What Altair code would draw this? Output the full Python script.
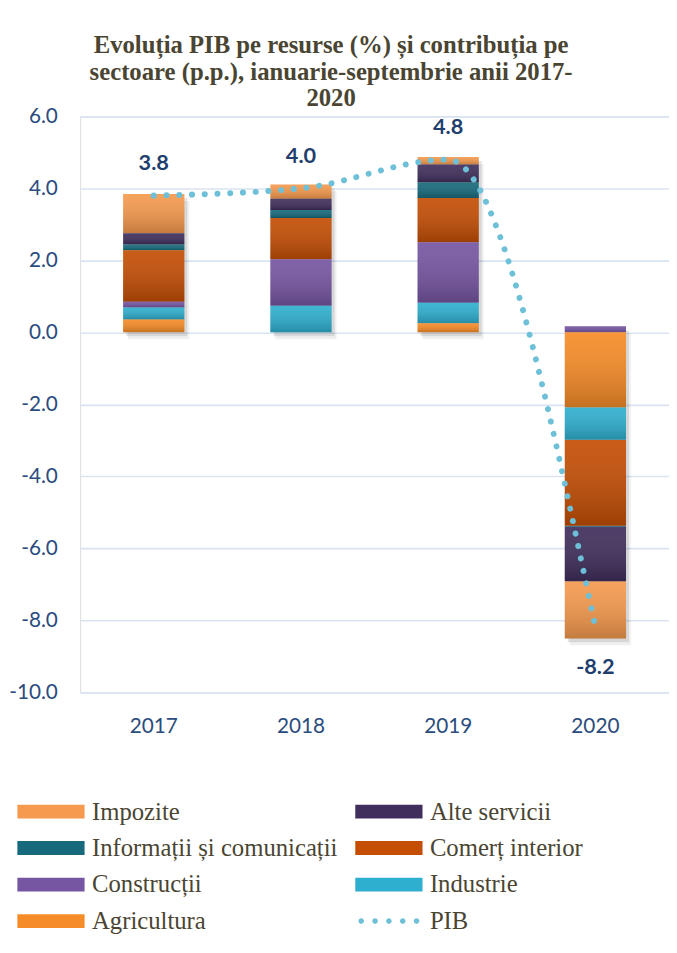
import altair as alt
import pandas as pd

years = ["2017", "2018", "2019", "2020"]
series = ["Impozite", "Alte servicii", "Informații și comunicații", "Comerț interior",
          "Construcții", "Industrie", "Agricultura"]
impozite = [1.09, 0.40, 0.21, -1.59]
alte_servicii = [0.31, 0.31, 0.50, -1.51]
informatii = [0.16, 0.22, 0.43, -0.03]
comert = [1.43, 1.15, 1.23, -2.39]
constructii = [0.16, 1.29, 1.68, 0.17]
industrie = [0.33, 0.74, 0.57, -0.90]
agricultura = [0.36, 0.00, 0.25, -2.08]
pib = [3.8, 4.0, 4.8, -8.2]

colors = ["#f59a4e", "#402f5c", "#176a7c", "#c44e05", "#7655a2", "#2fafcf", "#f68c28", "#6dc0d7"]
legend_domain = series + ["PIB"]

values_by_series = [impozite, alte_servicii, informatii, comert, constructii, industrie, agricultura]
rows = []
for i, (name, vals) in enumerate(zip(series, values_by_series)):
    for y, v in zip(years, vals):
        rows.append({"year": y, "series": name, "value": v, "ord": len(series) - 1 - i})
df = pd.DataFrame(rows)
df_pib = pd.DataFrame({"year": years, "pib": pib})
df_leg = pd.DataFrame({"series": legend_domain, "year": ["2017"] * len(legend_domain)})

rect_path = "M-4.86,-1H4.86V1H-4.86Z"
dots_path = "".join(
    f"M{c - 0.4:.2f},0A0.4,0.4 0 1,0 {c + 0.4:.2f},0A0.4,0.4 0 1,0 {c - 0.4:.2f},0Z"
    for c in [-4, -2, 0, 2, 4]
)
shapes = [rect_path] * 7 + [dots_path]

leg = alt.Legend(orient="none", legendX=-42, legendY=691, columns=2, direction="horizontal",
                 title=None, labelFont="Liberation Serif", labelFontSize=25,
                 labelColor="#4a4532", labelOffset=29, rowPadding=11,
                 columnPadding=17, symbolSize=196, symbolStrokeWidth=0,
                 symbolOpacity=1, labelLimit=400)

color_scale = alt.Scale(domain=legend_domain, range=colors)

x_enc = alt.X("year:N", title=None, sort=years,
              scale=alt.Scale(paddingInner=0.0, paddingOuter=0.0),
              axis=alt.Axis(labelAngle=0, labelFont="Lato", labelFontSize=21, labelColor="#2a4c7d",
                            labelPadding=24, ticks=False, domain=False, grid=False))
y_enc = alt.Y("value:Q", title=None, stack="zero",
              scale=alt.Scale(domain=[-10, 6], nice=False, zero=False),
              axis=alt.Axis(values=list(range(-10, 7, 2)), format=".1f", labelFont="Lato",
                            labelExpr="replace(datum.label, '\u2212', '-')",
                            labelFontSize=21, labelColor="#2a4c7d", labelPadding=23,
                            ticks=False, domain=False, grid=True, gridColor="#d9e3f1",
                            gridWidth=1.6))

base = alt.Chart(df).encode(x=x_enc, y=y_enc, detail="series:N", order=alt.Order("ord:Q"))

shadow1 = base.mark_bar(size=62, color="#000000", opacity=0.10, xOffset=3, yOffset=4)
shadow2 = base.mark_bar(size=62, color="#000000", opacity=0.06, xOffset=5, yOffset=7)

bars = base.mark_bar(size=62).encode(
    color=alt.Color("series:N", scale=color_scale, legend=leg)
)

overlay = base.mark_bar(
    size=62,
    fill=alt.Gradient(gradient="linear", x1=0, y1=0, x2=0, y2=1,
                      stops=[alt.GradientStop(offset=0, color="rgba(255,255,255,0.08)"),
                             alt.GradientStop(offset=1, color="rgba(0,0,0,0.20)")]),
)

line = alt.Chart(df_pib).mark_line(
    interpolate="monotone", strokeDash=[0.1, 12.8], strokeCap="round", strokeWidth=6,
    color="#6dc0d7"
).encode(x=alt.X("year:N", sort=years), y=alt.Y("pib:Q"))

labels = alt.Chart(df_pib).transform_calculate(
    lbl="replace(format(datum.pib, '.1f'), '\u2212', '-')"
)
lab_pos = labels.transform_filter("datum.pib >= 0").mark_text(
    dy=-33, font="Lato", fontSize=22, fontWeight="bold", color="#1f3f6e"
).encode(x=alt.X("year:N", sort=years), y=alt.Y("pib:Q"), text="lbl:N")

lab_neg = labels.transform_filter("datum.pib < 0").mark_text(
    dy=40, font="Lato", fontSize=22, fontWeight="bold", color="#1f3f6e"
).encode(x=alt.X("year:N", sort=years), y=alt.Y("pib:Q"), text="lbl:N")

legend_layer = alt.Chart(df_leg).mark_point(filled=True, opacity=0).encode(
    x=alt.X("year:N", sort=years),
    color=alt.Color("series:N", scale=color_scale, legend=leg),
    shape=alt.Shape("series:N", scale=alt.Scale(domain=legend_domain, range=shapes), legend=leg),
)

chart = alt.layer(
    shadow2, shadow1, bars, overlay, line, lab_pos, lab_neg, legend_layer
).properties(
    width=596,
    height=583,
    title=alt.Title(
        text=["Evoluția PIB pe resurse (%) și contribuția pe",
              "sectoare (p.p.), ianuarie-septembrie anii 2017-",
              "2020"],
        font="Liberation Serif", fontSize=25, fontWeight="bold", color="#4a4532",
        anchor="middle", dx=-44, dy=8, offset=2, lineHeight=27,
    ),
    autosize=alt.AutoSizeParams(type="none"),
    padding={"left": 73, "top": 104, "right": 0, "bottom": 250},
).configure_view(stroke=None).configure(background="white")

chart.save("out.html", embed_options={"renderer": "svg", "actions": False})
